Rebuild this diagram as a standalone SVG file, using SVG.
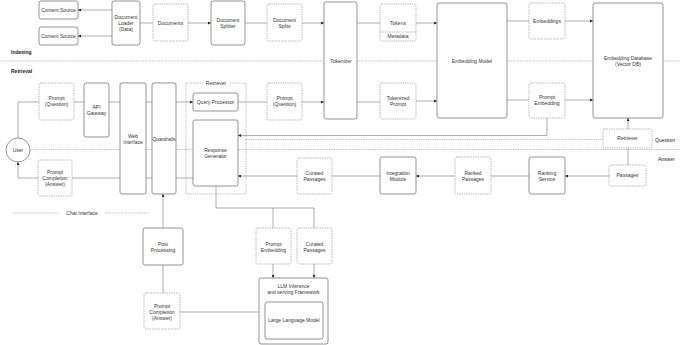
<svg xmlns="http://www.w3.org/2000/svg" width="680" height="345" viewBox="0 0 680 345">
<defs>
<style>
.n{fill:#fff;stroke:#666;stroke-width:0.7}
.d{fill:#fff;stroke:#8a8a8a;stroke-width:0.6;stroke-dasharray:1.4 0.9}
.t{font-family:"Liberation Sans",Arial,sans-serif;font-size:5px;fill:#333;text-anchor:middle}
.s{font-family:"Liberation Sans",Arial,sans-serif;font-size:5px;fill:#222}
.b{font-weight:bold}
.c{fill:none;stroke:#777;stroke-width:0.6}
.ca{fill:none;stroke:#777;stroke-width:0.6;marker-end:url(#a)}
.dl{fill:none;stroke:#999;stroke-width:0.6;stroke-dasharray:1.4 0.9}
</style>
<marker id="a" viewBox="0 0 4 4" refX="4" refY="2" markerWidth="3" markerHeight="3" orient="auto" markerUnits="userSpaceOnUse"><path d="M0,0 L4,2 L0,4z" fill="#222"/></marker>
</defs>
<rect width="680" height="345" fill="#fff"/>

<g id="sections">
<line class="dl" x1="0" y1="61" x2="680" y2="61"/>
<text class="s b" x="11" y="54">Indexing</text>
<text class="s b" x="11" y="73">Retrieval</text>
<line class="dl" x1="30" y1="149.5" x2="680" y2="149.5"/>
<line class="dl" x1="246" y1="139.5" x2="603" y2="139.5"/>
<text class="s" x="655" y="141.5">Question</text>
<text class="s" x="658" y="160.5">Answer</text>
<line class="dl" x1="13" y1="213" x2="151" y2="213"/>
<rect x="59" y="209.5" width="46" height="7" fill="#fff"/>
<text class="t" x="82" y="214.8">Chat Interface</text>
</g>

<g id="connectors">
<path class="ca" d="M112,10 H78"/>
<path class="ca" d="M112,36 H78"/>
<path class="c" d="M140,23 H153"/>
<path class="ca" d="M188,23 H211"/>
<path class="c" d="M245,23 H267"/>
<path class="ca" d="M302,23 H324"/>
<path class="c" d="M357,23 H380"/>
<path class="ca" d="M416,23 H437"/>
<path class="c" d="M507,21 H529"/>
<path class="ca" d="M565,21 H593"/>
<path class="c" d="M18,138 V102 H39"/>
<path class="c" d="M74,102 H84"/>
<path class="c" d="M109,102 H120"/>
<path class="c" d="M146,102 H152"/>
<path class="ca" d="M176,102 H193"/>
<path class="c" d="M238,102 H267"/>
<path class="ca" d="M302,102 H324"/>
<path class="c" d="M357,102 H380"/>
<path class="ca" d="M416,101 H437"/>
<path class="c" d="M507,100 H529"/>
<path class="ca" d="M565,100 H593"/>
<path class="ca" d="M547,118 V135.5 H238"/>
<path class="ca" d="M628,129 V118"/>
<path class="c" d="M628,165 V148"/>
<path class="ca" d="M609,176 H565"/>
<path class="c" d="M529,176 H491"/>
<path class="ca" d="M455,176 H416"/>
<path class="c" d="M380,176 H332"/>
<path class="ca" d="M297,176 H238"/>
<path class="c" d="M193,178 H176"/>
<path class="c" d="M152,178 H146"/>
<path class="c" d="M120,178 H72"/>
<path class="ca" d="M38,178 H18 V162"/>
<path class="c" d="M216,186 V208 H314 V228"/>
<path class="c" d="M273,208 V228"/>
<path class="ca" d="M273,264 V278"/>
<path class="ca" d="M314,264 V278"/>
<path class="c" d="M259,312 H180"/>
<path class="c" d="M163,293 V265"/>
<path class="ca" d="M163,228 V194"/>
</g>

<g id="retriever-group">
<rect x="186" y="83" width="60" height="111" fill="none" stroke="#999" stroke-width="0.6" stroke-dasharray="1.4 0.9"/>
<rect x="203" y="80" width="26" height="6" fill="#fff"/>
<text class="t" x="216" y="84.8">Retriever</text>
</g>

<g id="content-source-1"><rect class="n" x="39" y="1" width="39" height="18" rx="2"/><text class="t" x="58.5" y="11.8">Content Source</text></g>
<g id="content-source-2"><rect class="n" x="39" y="27" width="39" height="18" rx="2"/><text class="t" x="58.5" y="37.8">Content Source</text></g>
<g id="document-loader"><rect class="n" x="112" y="1" width="28" height="44" rx="2"/><text class="t" x="126"><tspan x="126" y="18.8">Document</tspan><tspan x="126" y="24.8">Loader</tspan><tspan x="126" y="30.8">(Data)</tspan></text></g>
<g id="documents"><rect class="d" x="153" y="4" width="35" height="37" rx="2"/><text class="t" x="170.5" y="24.8">Documents</text></g>
<g id="document-splitter"><rect class="n" x="211" y="1" width="34" height="44" rx="2"/><text class="t"><tspan x="228" y="21.8">Document</tspan><tspan x="228" y="27.8">Splitter</tspan></text></g>
<g id="document-splits"><rect class="d" x="267" y="4" width="35" height="37" rx="2"/><text class="t"><tspan x="284.5" y="21.8">Document</tspan><tspan x="284.5" y="27.8">Splits</tspan></text></g>
<g id="tokenizer"><rect class="n" x="324" y="2" width="33" height="117" rx="2"/><text class="t" x="341" y="62.8">Tokenizer</text></g>
<g id="tokens"><rect class="d" x="380" y="4" width="36" height="37" rx="2"/><line class="d" x1="380" y1="32" x2="416" y2="32"/><text class="t" x="398" y="24.8">Tokens</text><text class="t" x="398" y="38.3">Metadata</text></g>
<g id="tokenized-prompt"><rect class="d" x="380" y="83" width="36" height="36" rx="2"/><text class="t"><tspan x="398" y="99.8">Tokenized</tspan><tspan x="398" y="105.8">Prompt</tspan></text></g>
<g id="embedding-model"><rect class="n" x="437" y="3" width="70" height="115" rx="2"/><text class="t" x="472" y="62.8">Embedding Model</text></g>
<g id="embeddings"><rect class="d" x="529" y="3" width="36" height="36" rx="2"/><text class="t" x="547" y="22.8">Embeddings</text></g>
<g id="prompt-embedding-top"><rect class="d" x="529" y="83" width="36" height="35" rx="2"/><text class="t"><tspan x="547" y="98.8">Prompt</tspan><tspan x="547" y="104.8">Embedding</tspan></text></g>
<g id="embedding-database"><rect class="n" x="593" y="3" width="70" height="115" rx="2"/><text class="t"><tspan x="628" y="59.8">Embedding Database</tspan><tspan x="628" y="65.8">(Vector DB)</tspan></text></g>
<g id="retriever-right"><rect class="d" x="603" y="129" width="49" height="19" rx="1.5"/><text class="t" x="627.5" y="140.3">Retriever</text></g>
<g id="passages"><rect class="d" x="609" y="165" width="37" height="21" rx="2"/><text class="t" x="627.5" y="177.3">Passages</text></g>
<g id="ranking-service"><rect class="n" x="529" y="157" width="36" height="37" rx="2"/><text class="t"><tspan x="547" y="174.8">Ranking</tspan><tspan x="547" y="180.8">Service</tspan></text></g>
<g id="ranked-passages"><rect class="d" x="455" y="157" width="36" height="37" rx="2"/><text class="t"><tspan x="473" y="174.8">Ranked</tspan><tspan x="473" y="180.8">Passages</tspan></text></g>
<g id="integration-module"><rect class="n" x="380" y="157" width="36" height="37" rx="2"/><text class="t"><tspan x="398" y="174.8">Integration</tspan><tspan x="398" y="180.8">Module</tspan></text></g>
<g id="curated-passages"><rect class="d" x="297" y="158" width="35" height="36" rx="2"/><text class="t"><tspan x="314.5" y="174.8">Curated</tspan><tspan x="314.5" y="180.8">Passages</tspan></text></g>
<g id="response-generator"><rect class="n" x="193" y="120" width="45" height="66" rx="2"/><text class="t"><tspan x="215.5" y="152.3">Response</tspan><tspan x="215.5" y="158.3">Generator</tspan></text></g>
<g id="query-processor"><rect class="n" x="193" y="93" width="45" height="18" rx="2"/><text class="t" x="215.5" y="103.8">Query Processor</text></g>
<g id="prompt-question-mid"><rect class="d" x="267" y="83" width="35" height="37" rx="2"/><text class="t"><tspan x="284.5" y="100.3">Prompt</tspan><tspan x="284.5" y="106.3">(Question)</tspan></text></g>
<g id="user"><circle cx="18" cy="150" r="12" fill="#fff" stroke="#666" stroke-width="0.7"/><text class="t" x="18" y="151.8">User</text></g>
<g id="prompt-question-left"><rect class="d" x="39" y="83" width="35" height="37" rx="2"/><text class="t"><tspan x="56.5" y="100.3">Prompt</tspan><tspan x="56.5" y="106.3">(Question)</tspan></text></g>
<g id="api-gateway"><rect class="n" x="84" y="83" width="25" height="54" rx="2"/><text class="t"><tspan x="96.5" y="108.8">API</tspan><tspan x="96.5" y="114.8">Gateway</tspan></text></g>
<g id="web-interface"><rect class="n" x="120" y="83" width="26" height="111" rx="2"/><text class="t"><tspan x="133" y="137.8">Web</tspan><tspan x="133" y="143.8">Interface</tspan></text></g>
<g id="quardrails"><rect class="n" x="152" y="83" width="24" height="111" rx="2"/><text class="t" x="164" y="140.8">Quardrails</text></g>
<g id="prompt-completion-left"><rect class="d" x="38" y="160" width="34" height="36" rx="2"/><text class="t"><tspan x="55" y="173.8">Prompt</tspan><tspan x="55" y="179.8">Completion</tspan><tspan x="55" y="185.8">(Answer)</tspan></text></g>
<g id="post-processing"><rect class="n" x="143" y="228" width="40" height="37" rx="2"/><text class="t"><tspan x="163" y="245.8">Post</tspan><tspan x="163" y="251.8">Processing</tspan></text></g>
<g id="prompt-completion-bottom"><rect class="d" x="144" y="293" width="36" height="36" rx="2"/><text class="t"><tspan x="162" y="307.8">Prompt</tspan><tspan x="162" y="313.8">Completion</tspan><tspan x="162" y="319.8">(Answer)</tspan></text></g>
<g id="prompt-embedding-bottom"><rect class="d" x="256" y="228" width="35" height="36" rx="2"/><text class="t"><tspan x="273.5" y="245.8">Prompt</tspan><tspan x="273.5" y="251.8">Embedding</tspan></text></g>
<g id="curated-passages-bottom"><rect class="d" x="297" y="228" width="35" height="36" rx="2"/><text class="t"><tspan x="314.5" y="245.8">Curated</tspan><tspan x="314.5" y="251.8">Passages</tspan></text></g>
<g id="llm-framework"><rect class="n" x="259" y="278" width="69" height="66" rx="2"/><text class="t"><tspan x="293.5" y="288.3">LLM Inference</tspan><tspan x="293.5" y="294.3">and serving Framework</tspan></text>
<rect class="n" x="265" y="302" width="58" height="37" rx="2"/><text class="t" x="294" y="322.3">Large Language Model</text></g>
</svg>
